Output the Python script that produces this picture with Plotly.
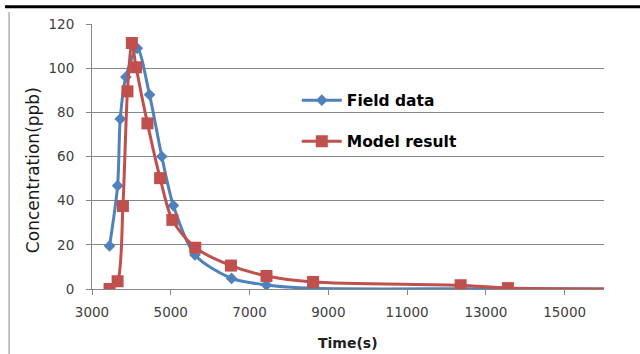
import plotly.graph_objects as go

field_t = [3446, 3650, 3717, 3860, 4150, 4460, 4772, 5066, 5615, 6544, 7430, 8613, 12360, 13560, 18000]
field_c = [19.5, 46.8, 77, 96, 109, 88, 60, 37.8, 15.4, 4.8, 1.8, 0.3, 0.1, 0.1, 0.0]

model_t = [3446, 3650, 3785, 3900, 4012, 4120, 4408, 4729, 5040, 5623, 6527, 7430, 8613, 12360, 13560, 18000]
model_c = [0, 3.5, 37.6, 89.5, 111.4, 100.4, 75, 50.2, 31.3, 18.7, 10.6, 5.9, 3.2, 1.7, 0.4, 0.0]

x_ticks = [3000, 5000, 7000, 9000, 11000, 13000, 15000]
y_ticks = [0, 20, 40, 60, 80, 100, 120]

BLUE = "#4F81BD"
RED = "#C0504D"
FONT = "DejaVu Sans"

fig = go.Figure()
fig.add_trace(go.Scatter(
    x=field_t, y=field_c, name="Field data", mode="lines+markers",
    line=dict(color=BLUE, width=3, shape="spline", smoothing=0.8),
    marker=dict(symbol="diamond", size=9, color=BLUE),
    legendgroup="a",
))
fig.add_trace(go.Scatter(
    x=model_t, y=model_c, name="Model result", mode="lines+markers",
    line=dict(color=RED, width=3, shape="spline", smoothing=0.8),
    marker=dict(symbol="square", size=12, color=RED),
    legendgroup="b",
))

fig.update_layout(
    width=640, height=354,
    margin=dict(l=92, r=36, t=24, b=65),
    paper_bgcolor="white", plot_bgcolor="white",
    font=dict(family=FONT, color="#404040", size=13),
    showlegend=True,
    legend=dict(
        x=0.40, y=0.775, xanchor="left", yanchor="top",
        bgcolor="rgba(0,0,0,0)",
        font=dict(family=FONT, size=15.5, color="black", weight="bold"),
        traceorder="grouped", tracegroupgap=18,
        itemwidth=40,
    ),
    xaxis=dict(
        range=[3000, 16000], tickvals=x_ticks, ticktext=[str(v) for v in x_ticks],
        showgrid=False, showline=True, linecolor="#868686", linewidth=1,
        ticks="outside", ticklen=5, tickcolor="#868686",
        zeroline=False, ticklabelstandoff=6,
        tickfont=dict(family=FONT, size=13.5, color="#404040"),
    ),
    yaxis=dict(
        range=[0, 120], tickvals=y_ticks,
        showgrid=True, gridcolor="#868686", gridwidth=1,
        showline=True, linecolor="#868686", linewidth=1,
        ticks="outside", ticklen=5, tickcolor="#868686",
        zeroline=False, ticklabelstandoff=9,
        tickfont=dict(family=FONT, size=13.5, color="#404040"),
    ),
    annotations=[
        dict(text="<b>Time(s)</b>", xref="paper", yref="paper", x=0.5, y=-0.204,
             xanchor="center", yanchor="middle", showarrow=False,
             font=dict(family=FONT, size=14, color="#202020")),
        dict(text="Concentration(ppb)", xref="paper", yref="paper", x=-0.115, y=0.449,
             xanchor="center", yanchor="middle", showarrow=False, textangle=-90,
             font=dict(family=FONT, size=17, color="#1a1a1a")),
    ],
)

# thick black rule at top and left chart-area border
fig.add_shape(type="line", xref="paper", yref="paper", x0=-0.17, x1=1.1,
              y0=1.065, y1=1.065, line=dict(color="black", width=3))
fig.add_shape(type="line", xref="paper", yref="paper", x0=-0.162, x1=-0.162,
              y0=1.045, y1=-0.25, line=dict(color="#B0B0B0", width=1.5))

fig.write_html("out.html")
